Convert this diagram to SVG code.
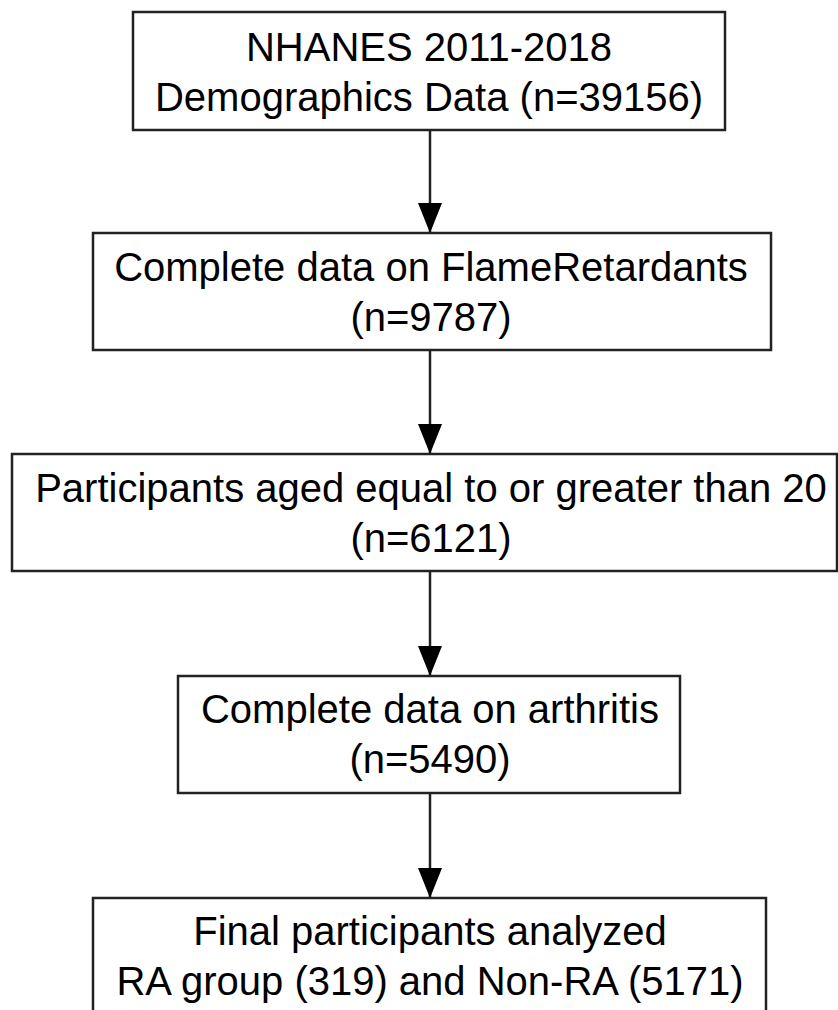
<svg xmlns="http://www.w3.org/2000/svg" width="838" height="1010" viewBox="0 0 838 1010">
<style>
.box{fill:#fff;stroke:#222;stroke-width:2.5}
.t{font-family:"Liberation Sans",Arial,sans-serif;font-size:40px;fill:#000;text-anchor:middle}
.edge{stroke:#222;stroke-width:2.5;fill:none;marker-end:url(#ah)}
</style>
<defs>
<marker id="ah" markerWidth="30" markerHeight="24" refX="30" refY="12" orient="auto" markerUnits="userSpaceOnUse" viewBox="0 0 30 24">
<path d="M0,0 L30,12 L0,24 Z" fill="#000"/>
</marker>
</defs>
<rect width="838" height="1010" fill="#fff"/>
<g id="edges">
<path class="edge" d="M430,130 V233"/>
<path class="edge" d="M430,350 V454"/>
<path class="edge" d="M430,571 V676"/>
<path class="edge" d="M430,793 V898"/>
</g>
<g id="n1">
<rect class="box" x="133" y="12" width="592" height="118"/>
<text class="t" x="429" y="61">NHANES 2011-2018</text>
<text class="t" x="429" y="111">Demographics Data (n=39156)</text>
</g>
<g id="n2">
<rect class="box" x="93" y="233" width="678" height="117"/>
<text class="t" x="431" y="281">Complete data on FlameRetardants</text>
<text class="t" x="431" y="331">(n=9787)</text>
</g>
<g id="n3">
<rect class="box" x="12" y="454" width="825" height="117"/>
<text class="t" x="431" y="502">Participants aged equal to or greater than 20</text>
<text class="t" x="431" y="552">(n=6121)</text>
</g>
<g id="n4">
<rect class="box" x="178" y="676" width="502" height="117"/>
<text class="t" x="430" y="723">Complete data on arthritis</text>
<text class="t" x="430" y="773">(n=5490)</text>
</g>
<g id="n5">
<rect class="box" x="93" y="898" width="673" height="130"/>
<text class="t" x="430" y="945">Final participants analyzed</text>
<text class="t" x="430" y="995">RA group (319) and Non-RA (5171)</text>
</g>
</svg>
